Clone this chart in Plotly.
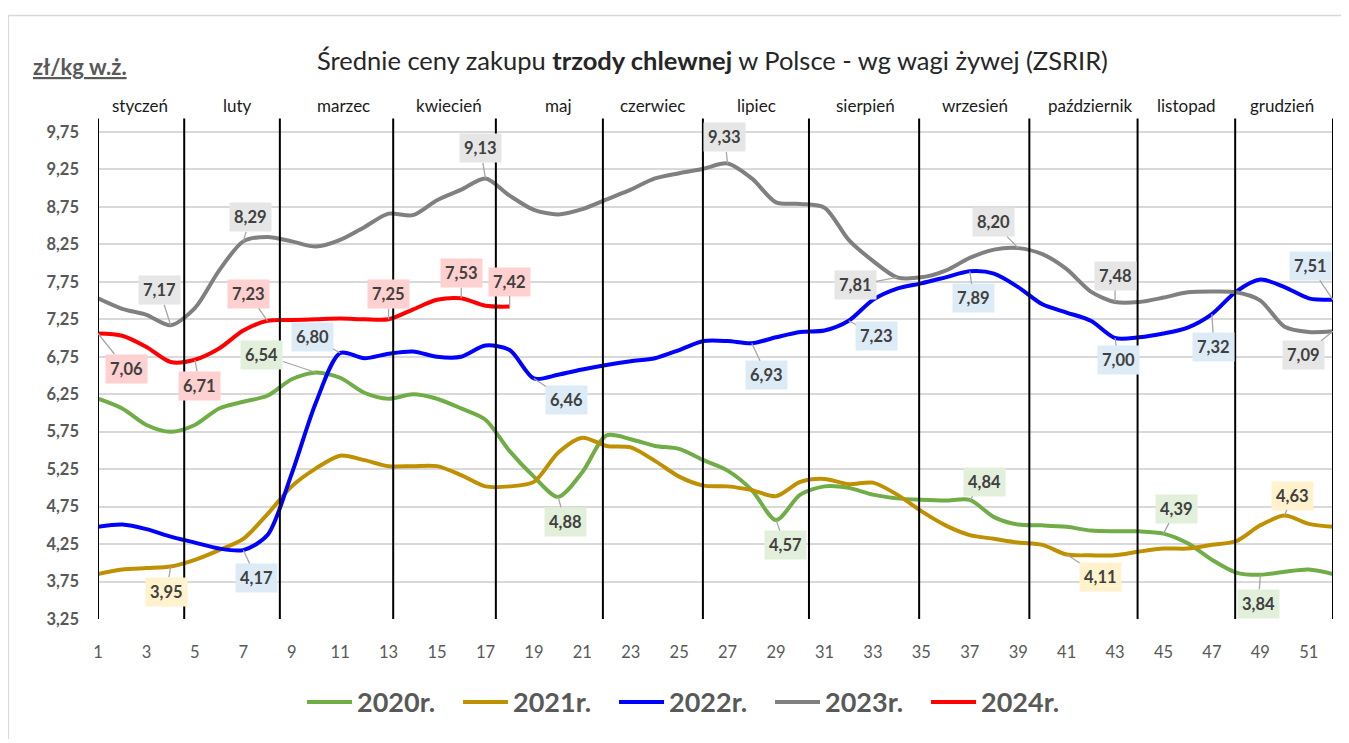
import plotly.graph_objects as go

weeks = list(range(1, 53))

y2020 = [6.19, 6.06, 5.84, 5.75, 5.84, 6.06, 6.15, 6.23, 6.45, 6.54,
         6.47, 6.27, 6.19, 6.25, 6.19, 6.06, 5.91, 5.49, 5.15, 4.88,
         5.21, 5.70, 5.65, 5.56, 5.52, 5.37, 5.23, 4.97, 4.57, 4.91,
         5.02, 5.00, 4.91, 4.86, 4.84, 4.83, 4.84, 4.61, 4.51, 4.50,
         4.48, 4.43, 4.42, 4.42, 4.39, 4.26, 4.04, 3.87, 3.84, 3.88,
         3.91, 3.85]
y2021 = [3.85, 3.91, 3.93, 3.95, 4.04, 4.17, 4.32, 4.65, 5.02, 5.26,
         5.43, 5.37, 5.29, 5.29, 5.29, 5.17, 5.02, 5.02, 5.08, 5.47,
         5.67, 5.56, 5.54, 5.36, 5.15, 5.03, 5.02, 4.97, 4.89, 5.08,
         5.12, 5.05, 5.07, 4.91, 4.69, 4.50, 4.37, 4.32, 4.27, 4.24,
         4.11, 4.10, 4.10, 4.15, 4.19, 4.19, 4.24, 4.29, 4.50, 4.63,
         4.52, 4.48]
y2022 = [4.48, 4.51, 4.45, 4.35, 4.27, 4.19, 4.17, 4.37, 5.19, 6.14,
         6.80, 6.73, 6.79, 6.82, 6.75, 6.75, 6.90, 6.84, 6.46, 6.51,
         6.58, 6.64, 6.69, 6.73, 6.84, 6.96, 6.96, 6.93, 7.01, 7.08,
         7.10, 7.23, 7.51, 7.66, 7.73, 7.81, 7.89, 7.86, 7.68, 7.45,
         7.34, 7.23, 7.00, 7.01, 7.06, 7.14, 7.32, 7.62, 7.78, 7.68,
         7.53, 7.51]
y2023 = [7.53, 7.39, 7.31, 7.17, 7.40, 7.90, 8.29, 8.35, 8.29, 8.22,
         8.31, 8.48, 8.66, 8.64, 8.84, 8.98, 9.13, 8.90, 8.71, 8.65,
         8.72, 8.85, 8.98, 9.13, 9.20, 9.26, 9.33, 9.13, 8.81, 8.79,
         8.74, 8.31, 8.03, 7.81, 7.81, 7.90, 8.07, 8.18, 8.20, 8.12,
         7.92, 7.62, 7.48, 7.48, 7.54, 7.61, 7.62, 7.61, 7.50, 7.15,
         7.08, 7.09]
y2024 = [7.06, 7.03, 6.88, 6.68, 6.71, 6.86, 7.10, 7.23, 7.24, 7.25,
         7.26, 7.25, 7.25, 7.38, 7.51, 7.53, 7.43, 7.42]

series_names = ["2020r.", "2021r.", "2022r.", "2023r.", "2024r."]
series_values = [y2020, y2021, y2022, y2023, y2024]
series_colors = ["#70AD47", "#BF9000", "#0000FF", "#808080", "#FF0000"]
label_bg = ["#E2EFDA", "#FFF2CC", "#DDEBF7", "#E7E6E6", "#FFD0D0"]

month_names = ["styczeń", "luty", "marzec", "kwiecień", "maj", "czerwiec",
               "lipiec", "sierpień", "wrzesień", "październik", "listopad", "grudzień"]
month_centers = [2.75, 6.75, 11.13, 15.5, 20.0, 23.89, 28.18, 32.68, 37.22, 41.97, 45.93, 49.9]
month_bounds = [1, 4.56, 8.51, 13.19, 17.43, 21.85, 25.98, 30.36, 34.91, 39.46, 43.93, 47.96, 52]

# labelled points: (series index, week, offset x px, offset y px)
labelled = [
    (3, 4, -11, -35), (3, 7, 7, -24), (3, 17, -5, -30), (3, 27, -3, -26),
    (3, 34, -42, 8), (3, 39, -25, -26), (3, 43, 0, -26), (3, 52, -30, 24),
    (4, 1, 28, 35), (4, 5, 5, 26), (4, 8, -19, -27), (4, 13, 0, -25),
    (4, 16, 0, -25), (4, 18, 0, -25),
    (2, 7, 13, 28), (2, 11, -28, -16), (2, 19, 33, 22), (2, 28, 15, 32),
    (2, 32, 28, 15), (2, 37, 4, 27), (2, 43, 3, 22), (2, 47, 2, 33), (2, 52, -23, -34),
    (0, 10, -54, -18), (0, 20, 7, 25), (0, 29, 9, 25), (0, 37, 15, -18),
    (0, 45, 13, -25), (0, 49, -2, 29),
    (1, 4, -4, 25), (1, 41, 34, 22), (1, 50, 8, -20),
]

FONT = "Lato, 'Open Sans', sans-serif"
YMIN, YMAX = 3.25, 9.95

fig = go.Figure()
for name, vals, col in zip(series_names, series_values, series_colors):
    fig.add_trace(go.Scatter(
        x=weeks[:len(vals)], y=vals, name=name, mode="lines",
        line=dict(color=col, width=4, shape="spline", smoothing=0.8),
        hoverinfo="x+y",
    ))

shapes = []
for b in month_bounds:
    shapes.append(dict(type="line", xref="x", yref="y", x0=b, x1=b, y0=YMIN, y1=9.93,
                       line=dict(color="black", width=2), layer="above"))
# chart-area border (top and left edges visible)
shapes.append(dict(type="line", xref="paper", yref="paper",
                   x0=-0.0726, x1=1.2, y0=1.2024, y1=1.2024,
                   line=dict(color="#D9D9D9", width=1.5), layer="below"))
shapes.append(dict(type="line", xref="paper", yref="paper",
                   x0=-0.0726, x1=-0.0726, y0=-0.4, y1=1.2024,
                   line=dict(color="#D9D9D9", width=1.5), layer="below"))

annotations = []
for name, c in zip(month_names, month_centers):
    annotations.append(dict(x=c, xref="x", y=1, yref="paper", yanchor="middle", yshift=12,
                            text=name, showarrow=False,
                            font=dict(family=FONT, size=17, color="#1a1a1a")))

for si, wk, dx, dy in labelled:
    v = series_values[si][wk - 1]
    annotations.append(dict(
        x=wk, y=v, xref="x", yref="y", ax=dx, ay=dy,
        text="<b>" + f"{v:.2f}".replace(".", ",") + "</b>",
        showarrow=True, arrowhead=0, arrowwidth=1.3, arrowcolor="#A6A6A6",
        bgcolor=label_bg[si], borderpad=4,
        font=dict(family=FONT, size=16.5, color="#404040"),
    ))

annotations.append(dict(
    x=0.4977, xref="paper", y=1.113, yref="paper", xanchor="center", yanchor="middle",
    text="Średnie ceny zakupu <b>trzody chlewnej</b> w Polsce - wg wagi żywej (ZSRIR)",
    showarrow=False, font=dict(family=FONT, size=25.5, color="#262626")))
annotations.append(dict(
    x=-0.0545, xref="paper", y=1.1, yref="paper", xanchor="left", yanchor="middle",
    text="<u><b>zł/kg w.ż.</b></u>",
    showarrow=False, font=dict(family=FONT, size=22, color="#595959")))

fig.update_layout(
    width=1341, height=731,
    margin=dict(l=90, r=16, t=109, b=106),
    paper_bgcolor="white", plot_bgcolor="white",
    separators=", ",
    font=dict(family=FONT, color="#595959"),
    xaxis=dict(range=[1, 52], tick0=1, dtick=2, showgrid=False, zeroline=False,
               showline=False, ticks="", ticklabelstandoff=21,
               tickfont=dict(family=FONT, size=16.5, color="#595959")),
    yaxis=dict(range=[YMIN, YMAX], tick0=3.25, dtick=0.5, tickformat=".2f",
               showgrid=True, gridcolor="#D9D9D9", gridwidth=1.5, zeroline=False,
               showline=False, ticks="", ticklabelstandoff=18,
               tickfont=dict(family=FONT, size=16.5, color="#595959", weight="bold")),
    legend=dict(orientation="h", x=0.481, xanchor="center", y=-0.166, yanchor="middle",
                font=dict(family=FONT, size=27, color="#595959", weight="bold"),
                itemwidth=45, entrywidth=96, entrywidthmode="pixels"),
    shapes=shapes, annotations=annotations,
    showlegend=True,
)

fig.write_html("out.html")
